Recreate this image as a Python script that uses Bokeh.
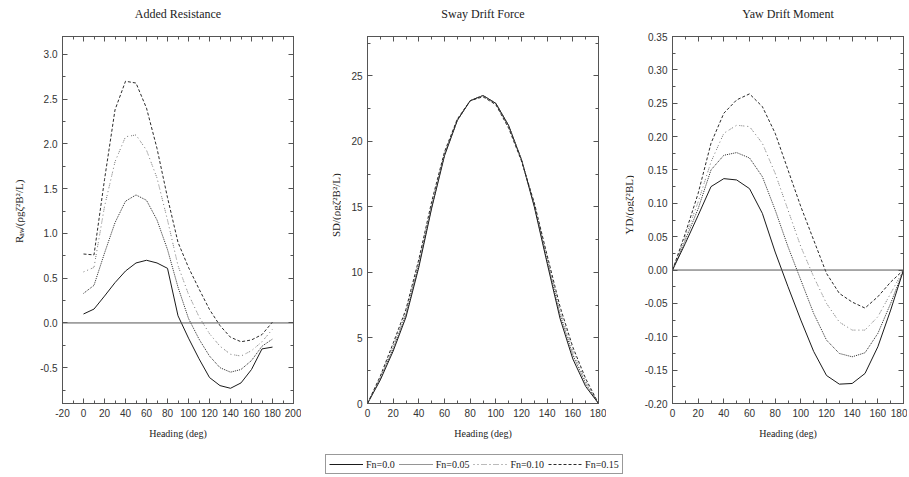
import math
from bokeh.plotting import figure
from bokeh.models import Range1d, LinearAxis, FixedTicker, Span, Legend, LegendItem, PrintfTickFormatter
from bokeh.layouts import row, column
from bokeh.embed import file_html
from bokeh.resources import INLINE
from bokeh.core.properties import value

# ---------------- data ----------------
heading = [0, 10, 20, 30, 40, 50, 60, 70, 80, 90, 100, 110, 120, 130, 140, 150, 160, 170, 180]
series_labels = ["Fn=0.0", "Fn=0.05", "Fn=0.10", "Fn=0.15"]

raw_fn000 = [0.10, 0.155, 0.30, 0.45, 0.58, 0.67, 0.70, 0.67, 0.61, 0.08, -0.17, -0.40, -0.61, -0.70, -0.73, -0.67, -0.52, -0.29, -0.27]
raw_fn005 = [0.33, 0.42, 0.78, 1.12, 1.36, 1.43, 1.37, 1.15, 0.82, 0.40, 0.05, -0.18, -0.37, -0.50, -0.55, -0.52, -0.42, -0.26, -0.18]
raw_fn010 = [0.57, 0.62, 1.30, 1.80, 2.08, 2.10, 1.93, 1.62, 1.15, 0.64, 0.32, 0.07, -0.12, -0.26, -0.35, -0.37, -0.31, -0.21, -0.07]
raw_fn015 = [0.77, 0.76, 1.60, 2.38, 2.70, 2.68, 2.40, 1.95, 1.40, 0.90, 0.62, 0.38, 0.15, -0.03, -0.16, -0.21, -0.19, -0.13, 0.01]

sd_fn000 = [0, 1.8, 4.0, 6.6, 10.4, 14.9, 18.9, 21.6, 23.1, 23.5, 22.9, 21.2, 18.6, 15.0, 10.7, 6.5, 3.4, 1.3, 0]
sd_fn005 = [0, 1.9, 4.2, 6.8, 10.6, 15.0, 19.0, 21.6, 23.1, 23.5, 22.9, 21.2, 18.6, 15.1, 10.9, 6.8, 3.7, 1.5, 0]
sd_fn010 = [0, 2.0, 4.4, 7.0, 10.8, 15.2, 19.1, 21.7, 23.1, 23.5, 22.8, 21.1, 18.6, 15.2, 11.1, 7.1, 4.0, 1.7, 0]
sd_fn015 = [0, 2.1, 4.6, 7.2, 11.0, 15.4, 19.2, 21.7, 23.1, 23.4, 22.8, 21.0, 18.5, 15.3, 11.3, 7.4, 4.3, 1.9, 0]

yd_fn000 = [0, 0.040, 0.082, 0.125, 0.137, 0.135, 0.122, 0.085, 0.027, -0.025, -0.075, -0.122, -0.158, -0.171, -0.170, -0.155, -0.115, -0.060, 0]
yd_fn005 = [0, 0.045, 0.092, 0.150, 0.172, 0.176, 0.168, 0.140, 0.090, 0.035, -0.015, -0.065, -0.105, -0.125, -0.130, -0.124, -0.095, -0.050, 0]
yd_fn010 = [0, 0.050, 0.102, 0.162, 0.205, 0.217, 0.215, 0.190, 0.145, 0.090, 0.035, -0.010, -0.050, -0.078, -0.090, -0.090, -0.070, -0.035, 0]
yd_fn015 = [0, 0.055, 0.115, 0.190, 0.235, 0.255, 0.264, 0.245, 0.205, 0.150, 0.095, 0.045, -0.005, -0.035, -0.048, -0.057, -0.040, -0.018, 0]

raw_ticks_x = [-20, 0, 20, 40, 60, 80, 100, 120, 140, 160, 180, 200]
raw_ticks_y = [-0.5, 0.0, 0.5, 1.0, 1.5, 2.0, 2.5, 3.0]
deg_ticks = [0, 20, 40, 60, 80, 100, 120, 140, 160, 180]
sd_ticks_y = [0, 5, 10, 15, 20, 25]
yd_ticks_y = [-0.20, -0.15, -0.10, -0.05, 0.00, 0.05, 0.10, 0.15, 0.20, 0.25, 0.30, 0.35]

# y-axis titles as pieces: (text, font px, baseline shift px, advance px)
raw_ylabel = [("R", 11, 0, 7.3), ("aw", 8, 3, 9.0), ("/(ρgζ²B²/L)", 11, 0, 0)]
sd_ylabel = [("SD/(ρgζ²B²/L)", 11, 0, 0)]
yd_ylabel = [("YD/(ρgζ²BL)", 11, 0, 0)]
label_lengths = [70, 68, 62]

# ---------------- styles ----------------
SERIF = "Liberation Serif"
SANS = "Liberation Sans"
AX = "#555555"
H = 441
line_styles = [
    dict(line_color="#1a1a1a", line_dash="solid", line_width=1),
    dict(line_color="#2a2a2a", line_dash="1 1", line_width=1),
    dict(line_color="#777777", line_dash="1 3 1 3 1 1 1 1", line_width=1),
    dict(line_color="#2a2a2a", line_dash="3 2", line_width=1),
]


def minor_between(ticks, lo, hi):
    step = (ticks[1] - ticks[0]) / 2.0
    out = []
    v = ticks[0] - step * 4
    while v <= hi + 1e-9:
        if v >= lo - 1e-9:
            out.append(round(v, 6))
        v += step
    return out


def style_axis(ax, ticks, minor, fmt=None, show_labels=True):
    ax.ticker = FixedTicker(ticks=ticks, minor_ticks=minor)
    ax.axis_line_color = AX
    ax.axis_line_width = 1
    ax.major_tick_line_color = AX
    ax.minor_tick_line_color = AX
    ax.major_tick_in = 5
    ax.major_tick_out = 0
    ax.minor_tick_in = 3
    ax.minor_tick_out = 0
    ax.major_label_text_font = SANS
    if fmt:
        ax.formatter = PrintfTickFormatter(format=fmt)
    if show_labels:
        ax.major_label_text_color = "#333333"
        ax.major_label_text_font_size = "10px"
        ax.major_label_standoff = 5
    else:
        ax.major_label_text_color = None
        ax.major_label_text_font_size = "1px"
        ax.major_label_standoff = 0
    ax.axis_label_text_font = SERIF
    ax.axis_label_text_font_style = "normal"
    ax.axis_label_text_color = "#222222"


def make_panel(title, xr, yr, xticks, yticks, xfmt, yfmt, left, right):
    p = figure(width=left + 231 + right, height=H, x_range=Range1d(*xr), y_range=Range1d(*yr),
               output_backend="svg", toolbar_location=None,
               min_border_left=left, min_border_right=right, min_border_top=36, min_border_bottom=36)
    p.grid.visible = False
    p.outline_line_color = AX
    xminor = minor_between(xticks, xr[0], xr[1])
    yminor = minor_between(yticks, yr[0], yr[1])
    style_axis(p.xaxis[0], xticks, xminor, xfmt)
    style_axis(p.yaxis[0], yticks, yminor, yfmt)
    p.xaxis.axis_label = "Heading (deg)"
    p.xaxis.axis_label_text_font_size = "10px"
    p.xaxis.axis_label_standoff = 8
    top = LinearAxis()
    style_axis(top, xticks, xminor, show_labels=False)
    top.axis_label = title                     # panel title, drawn above the frame
    top.axis_label_text_font_size = "12px"
    top.axis_label_standoff = 16
    p.add_layout(top, "above")
    rgt = LinearAxis()
    style_axis(rgt, yticks, yminor, show_labels=False)
    p.add_layout(rgt, "right")
    return p


def label_strip(width, baseline_x, center_y, pieces, length):
    """Narrow figure whose frame fills it; draws a vertical axis title (page pixel coords)."""
    s = figure(width=width, height=H, x_range=Range1d(0, width), y_range=Range1d(H, 0),
               output_backend="svg", toolbar_location=None, min_border=0)
    s.axis.visible = False
    s.grid.visible = False
    s.outline_line_color = None
    pos = center_y + length / 2.0
    for text, size, shift, adv in pieces:
        s.text(x=[baseline_x + shift], y=[pos], text=[text], angle=math.pi / 2,
               text_align="left", text_baseline="alphabetic",
               text_font=value(SERIF), text_font_size=f"{size}px", text_color="#222222")
        pos -= adv
    return s


# ---------------- panels ----------------
# page x layout: p1 frame 62-293, p2 frame 367-598, p3 frame 672-903
lab1 = label_strip(32, 18, 213, raw_ylabel, label_lengths[0])       # 0..32
p1 = make_panel("Added Resistance", (-20, 200), (-0.9, 3.2), raw_ticks_x, raw_ticks_y,
                "%d", "%.1f", 30, 8)                                   # 32..301
lab2 = label_strip(40, 34, 207, sd_ylabel, label_lengths[1])        # 301..341
p2 = make_panel("Sway Drift Force", (0, 180), (0, 28), deg_ticks, sd_ticks_y,
                "%d", "%d", 26, 8)                                     # 341..606
lab3 = label_strip(28, 22, 207, yd_ylabel, label_lengths[2])        # 606..634
p3 = make_panel("Yaw Drift Moment", (0, 180), (-0.20, 0.35), deg_ticks, yd_ticks_y,
                "%d", "%.2f", 38, 4)                                   # 634..907

for p in (p1, p3):
    p.add_layout(Span(location=0, dimension="width", line_color="#555555", line_width=1))

for p, series in ((p1, [raw_fn000, raw_fn005, raw_fn010, raw_fn015]),
                  (p2, [sd_fn000, sd_fn005, sd_fn010, sd_fn015]),
                  (p3, [yd_fn000, yd_fn005, yd_fn010, yd_fn015])):
    for ys, st in zip(series, line_styles):
        p.line(heading, ys, **st)

# ---------------- legend strip ----------------
pl = figure(width=907, height=34, x_range=Range1d(0, 1), y_range=Range1d(0, 1),
            output_backend="svg", toolbar_location=None, min_border=0)
pl.axis.visible = False
pl.grid.visible = False
pl.outline_line_color = None
items = []
for lab, st, ys in zip(series_labels, line_styles, [raw_fn000, raw_fn005, raw_fn010, raw_fn015]):
    r = pl.line([h + 1000 for h in heading[:2]], ys[:2], **st)   # off-range proxy for the legend
    items.append(LegendItem(label=lab, renderers=[r]))
legend = Legend(items=items, orientation="horizontal", location=(325, 1),
                glyph_width=34, glyph_height=12, label_height=12, label_standoff=3,
                label_text_font=SERIF, label_text_font_size="10px", label_text_color="#222222",
                spacing=4, padding=3, margin=0, border_line_color="#333333", border_line_width=1,
                background_fill_color="white")
pl.add_layout(legend, "center")

layout = column(row(lab1, p1, lab2, p2, lab3, p3), pl)

open("out.html", "w").write(file_html(layout, INLINE))
